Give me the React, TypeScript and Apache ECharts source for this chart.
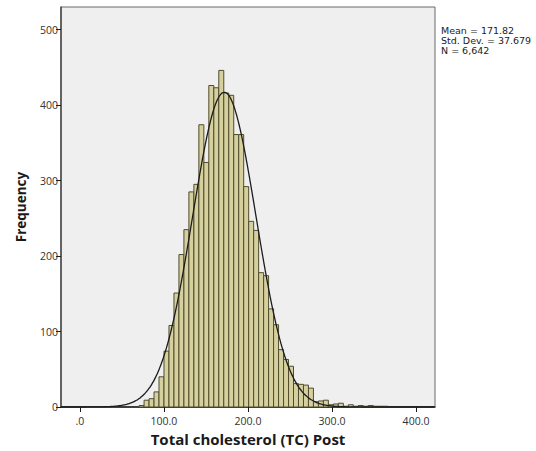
import React, { useEffect, useRef } from "react";
import * as echarts from "echarts";

// Histogram of post-treatment total cholesterol with fitted normal curve
const binStart = 70.35;
const binWidth = 5.93;
const counts = [
  2, 9, 11, 20, 40,
  74, 108, 151, 202, 235, 285, 295, 374, 324, 426,
  423, 446, 416, 413, 361, 361, 292, 246, 234, 178,
  174, 130, 109, 76, 63, 54, 31, 30, 29, 25,
  7, 8, 9, 3, 4, 5, 1, 3, 1, 2,
  1, 2, 1, 1, 1,
];

const statMean = 171.82;
const statSd = 37.679;
const statN = 6642;
const statLines = ["Mean = 171.82", "Std. Dev. = 37.679", "N = 6,642"];

const xTicks = [0, 100, 200, 300, 400];
const yTicks = [0, 100, 200, 300, 400, 500];
const xMin = -22.6;
const xMax = 422.6;
const yMax = 530;

const xTitle = "Total cholesterol (TC) Post";
const yTitle = "Frequency";

export default function App() {
  const ref = useRef<HTMLDivElement>(null);

  useEffect(() => {
    if (!ref.current) return;
    const chart = echarts.init(ref.current, null, { renderer: "svg" });

    const bins = counts.map((c, i) => [
      binStart + i * binWidth,
      binStart + (i + 1) * binWidth,
      c,
    ]);

    // Normal density scaled to frequency per bin
    const curve: number[][] = [];
    const scale = (statN * binWidth) / (statSd * Math.sqrt(2 * Math.PI));
    for (let x = xMin; x <= xMax + 0.001; x += 1.5) {
      const z = (x - statMean) / statSd;
      curve.push([x, scale * Math.exp(-0.5 * z * z)]);
    }

    const font = "'Open Sans', 'DejaVu Sans', sans-serif";
    const wideFont = "'DejaVu Sans', sans-serif";

    chart.setOption({
      animation: false,
      backgroundColor: "#ffffff",
      grid: {
        left: 61,
        top: 7,
        width: 374,
        height: 402,
        show: true,
        backgroundColor: "#efefef",
        borderColor: "#6a6a6a",
        borderWidth: 1,
      },
      xAxis: {
        type: "value",
        min: xMin,
        max: xMax,
        name: xTitle,
        nameLocation: "middle",
        nameGap: 24,
        nameTextStyle: {
          fontFamily: font,
          fontSize: 15,
          fontWeight: "bold",
          color: "#1a1a1a",
        },
        axisLine: { show: true, onZero: false, lineStyle: { color: "#1a1a1a", width: 1.5 } },
        axisTick: {
          show: true,
          length: 5,
          customValues: xTicks,
          lineStyle: { color: "#1a1a1a", width: 1 },
        },
        axisLabel: {
          customValues: xTicks,
          margin: 8,
          fontFamily: font,
          fontSize: 10.5,
          color: "#333333",
          formatter: (v: number) => (v === 0 ? ".0" : v.toFixed(1)),
        },
        splitLine: { show: false },
      },
      yAxis: {
        type: "value",
        min: 0,
        max: yMax,
        name: yTitle,
        nameLocation: "middle",
        nameGap: 33,
        nameTextStyle: {
          fontFamily: font,
          fontSize: 13.5,
          fontWeight: "bold",
          color: "#1a1a1a",
        },
        axisLine: { show: true, onZero: false, lineStyle: { color: "#4a4a4a", width: 1.5 } },
        axisTick: {
          show: true,
          length: 5,
          customValues: yTicks,
          lineStyle: { color: "#1a1a1a", width: 1 },
        },
        axisLabel: {
          customValues: yTicks,
          margin: 3,
          fontFamily: font,
          fontSize: 10.5,
          color: "#333333",
        },
        splitLine: { show: false },
      },
      series: [
        {
          type: "custom",
          data: bins,
          encode: { x: [0, 1], y: 2 },
          clip: true,
          renderItem: (_params: any, api: any) => {
            const lo = api.value(0);
            const hi = api.value(1);
            const c = api.value(2);
            const p0 = api.coord([lo, 0]);
            const p1 = api.coord([hi, c]);
            return {
              type: "rect",
              shape: {
                x: p0[0],
                y: p1[1],
                width: p1[0] - p0[0],
                height: p0[1] - p1[1],
              },
              style: {
                fill: "#d6d09f",
                stroke: "#4f4c2c",
                lineWidth: 1,
              },
            };
          },
        },
        {
          type: "line",
          data: curve,
          showSymbol: false,
          smooth: true,
          clip: true,
          lineStyle: { color: "#1c1c1c", width: 1.3 },
          z: 5,
        },
      ],
      graphic: [
        {
          type: "text",
          left: 441,
          top: 25,
          style: {
            text: statLines.join("\n"),
            fontFamily: wideFont,
            fontSize: 9.5,
            lineHeight: 10,
            fill: "#222222",
          },
        },
      ],
    });

    return () => chart.dispose();
  }, []);

  return (
    <div
      ref={ref}
      style={{ position: "absolute", left: 0, top: 0, width: 536, height: 451 }}
    />
  );
}
